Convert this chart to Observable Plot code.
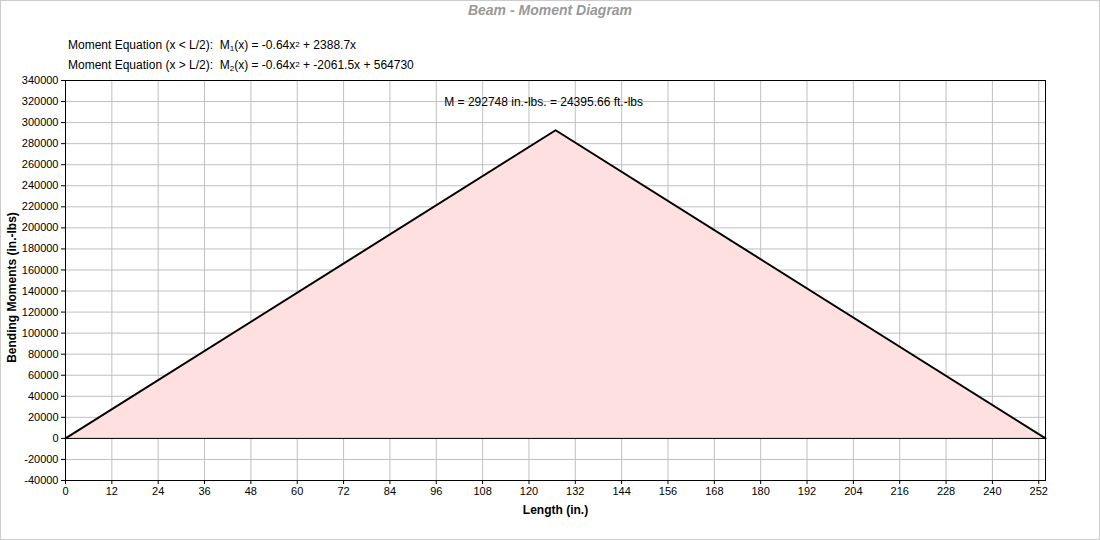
<!DOCTYPE html>
<html>
<head>
<meta charset="utf-8">
<script src="https://cdn.jsdelivr.net/npm/d3@7"></script>
<script src="https://cdn.jsdelivr.net/npm/@observablehq/plot@0.6"></script>
<style>
  html, body { margin: 0; padding: 0; background: #fff; }
  #wrap { position: relative; width: 1100px; height: 540px; font-family: "Liberation Sans", Arial, sans-serif; }
  #border { position: absolute; left: 0; top: 0; width: 1098px; height: 538px; border: 1px solid #cccccc; pointer-events: none; }
  #title { position: absolute; left: 0; width: 1100px; top: 2px; text-align: center; font-size: 14px; font-weight: bold; font-style: italic; color: #999999; }
  .eq { position: absolute; left: 68px; font-size: 12px; color: #000; white-space: pre; }
  .eq sub { font-size: 8px; vertical-align: -2px; }
  .eq sup { font-size: 8px; vertical-align: 2px; }
  svg text { font-family: "Liberation Sans", Arial, sans-serif; }
</style>
</head>
<body>
<div id="wrap"></div>
<script>
// Data
const beamLength = 253.75;            // in.
const positions = [0, 126.9, 253.75]; // in.
const moments = [0, 292748, 0];       // in.-lbs
const peakLabel = "M = 292748 in.-lbs. = 24395.66 ft.-lbs";
const xTicks = d3.range(0, 253, 12);
const yTicks = d3.range(-40000, 340001, 20000);
const titleText = "Beam - Moment Diagram";
const yLabel = "Bending Moments (in.-lbs)";
const xLabel = "Length (in.)";

const rows = positions.map((x, i) => ({x, m: moments[i]}));
const peak = rows[1];

const chart = Plot.plot({
  width: 1100,
  height: 540,
  marginLeft: 65,
  marginRight: 55,
  marginTop: 80,
  marginBottom: 60,
  style: {fontSize: "11px", color: "#000", background: "transparent"},
  x: {domain: [0, beamLength], ticks: xTicks, tickSize: 4, tickPadding: 3, label: null},
  y: {domain: [-40000, 340000], ticks: yTicks, tickSize: 4, tickPadding: 3, label: null, tickFormat: d => String(d)},
  marks: [
    Plot.gridX(xTicks, {stroke: "#c0c0c0", strokeOpacity: 1}),
    Plot.gridY(yTicks, {stroke: "#c0c0c0", strokeOpacity: 1}),
    Plot.areaY(rows, {x: "x", y: "m", fill: "#ffe0e0"}),
    Plot.ruleY([0], {stroke: "#000", strokeWidth: 1}),
    Plot.line(rows, {x: "x", y: "m", stroke: "#000", strokeWidth: 2}),
    Plot.text([peak], {x: "x", y: "m", text: () => peakLabel, dy: -28, dx: -12, fontSize: 12, fill: "#000"}),
    Plot.frame({stroke: "#000"}),
    Plot.axisX({ticks: xTicks, tickSize: 4, tickPadding: 3, label: null}),
    Plot.axisY({ticks: yTicks, tickSize: 4, tickPadding: 3, label: null, tickFormat: d => String(d)}),
    Plot.text([yLabel], {frameAnchor: "left", dx: -53, dy: 7, rotate: -90, textAnchor: "middle", lineAnchor: "middle", fontWeight: "bold", fontSize: 12}),
    Plot.text([xLabel], {frameAnchor: "bottom", dy: 30, textAnchor: "middle", lineAnchor: "middle", fontWeight: "bold", fontSize: 12})
  ]
});

const wrap = document.getElementById("wrap");
chart.style.position = "absolute";
chart.style.left = "0";
chart.style.top = "0";
wrap.appendChild(chart);

const t = document.createElement("div");
t.id = "title";
t.textContent = titleText;
wrap.appendChild(t);

const eq1 = document.createElement("div");
eq1.className = "eq";
eq1.style.top = "38px";
eq1.innerHTML = "Moment Equation (x &lt; L/2):  M<sub>1</sub>(x) = -0.64x<sup>2</sup> + 2388.7x";
wrap.appendChild(eq1);

const eq2 = document.createElement("div");
eq2.className = "eq";
eq2.style.top = "58px";
eq2.innerHTML = "Moment Equation (x &gt; L/2):  M<sub>2</sub>(x) = -0.64x<sup>2</sup> + -2061.5x + 564730";
wrap.appendChild(eq2);

const b = document.createElement("div");
b.id = "border";
wrap.appendChild(b);
</script>
</body>
</html>
